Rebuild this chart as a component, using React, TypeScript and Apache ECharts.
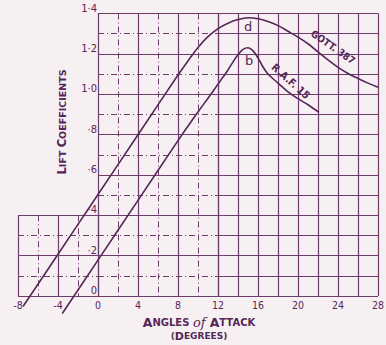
import React, { useEffect, useRef } from "react";
import * as echarts from "echarts";

// Curve a: Gott. 387
const gottX = [-7.5, -4, 0, 4, 8, 9, 10, 11, 12, 13, 14, 15, 16, 17, 18, 19, 20, 21, 22, 23, 24, 25, 26, 27, 28];
const gottY = [-0.052, 0.207, 0.503, 0.799, 1.095, 1.165, 1.232, 1.285, 1.325, 1.352, 1.37, 1.379, 1.374, 1.36, 1.34, 1.312, 1.283, 1.25, 1.21, 1.17, 1.133, 1.103, 1.078, 1.055, 1.035];
// Curve b: R.A.F. 15
const rafX = [-3.57, 0, 4, 8, 10, 11, 12, 12.5, 13, 13.5, 14, 14.5, 15, 15.5, 16, 16.5, 17, 18, 19, 20, 21, 22.1];
const rafY = [-0.087, 0.178, 0.474, 0.77, 0.912, 0.98, 1.05, 1.085, 1.12, 1.16, 1.195, 1.222, 1.23, 1.215, 1.18, 1.135, 1.1, 1.055, 1.012, 0.978, 0.948, 0.91];

const xTicks = [-8, -4, 0, 4, 8, 12, 16, 20, 24, 28];
const yTickLabels = ["0", "·2", "·4", "·6", "·8", "1·0", "1·2", "1·4"];

const BG = "#f7f0f3";
const GRID = "#6e3d6c";
const INK = "#552658";
const FONT = "'DejaVu Sans Condensed', 'Liberation Sans Narrow', 'DejaVu Sans', sans-serif";
const WIDE = "'DejaVu Sans', sans-serif";
const DASH = [6, 3, 1, 3];

export default function App() {
  const ref = useRef<HTMLDivElement>(null);
  useEffect(() => {
    if (!ref.current) return;
    const chart = echarts.init(ref.current, null, { renderer: "svg" });
    const solid = { show: true, lineStyle: { color: GRID, width: 1.2, type: "solid" } };
    const minorDash = { show: true, lineStyle: { color: GRID, width: 1, type: DASH } };
    const noAxis = { axisLine: { show: false }, axisTick: { show: false } };
    const option: any = {
      animation: false,
      backgroundColor: BG,
      grid: [
        { left: 18, top: 13.5, width: 360, height: 282.5, outerBoundsMode: "none" },
        { left: 98, top: 13.5, width: 120, height: 282.5, outerBoundsMode: "none" },
        { left: 218, top: 13.5, width: 160, height: 282.5, outerBoundsMode: "none" },
        { left: 18, top: 215.3, width: 80, height: 80.7, outerBoundsMode: "none" },
      ],
      xAxis: [
        {
          gridIndex: 0, type: "value", min: -8, max: 28, interval: 4, ...noAxis,
          splitLine: { show: false },
          axisLabel: {
            color: INK, fontSize: 10.5, margin: 3, fontFamily: FONT,
            formatter: (v: number) => (xTicks.includes(v) ? String(v) : ""),
          },
          z: 5,
        },
        {
          gridIndex: 1, type: "value", min: 0, max: 12, interval: 4, ...noAxis,
          axisLabel: { show: false }, splitLine: solid,
          minorTick: { show: false, splitNumber: 2 }, minorSplitLine: minorDash,
        },
        {
          gridIndex: 2, type: "value", min: 12, max: 28, interval: 2, ...noAxis,
          axisLabel: { show: false }, splitLine: solid,
        },
        {
          gridIndex: 3, type: "value", min: -8, max: 0, interval: 4, ...noAxis,
          axisLabel: { show: false }, splitLine: solid,
          minorTick: { show: false, splitNumber: 2 }, minorSplitLine: minorDash,
        },
      ],
      yAxis: [
        { gridIndex: 0, type: "value", min: 0, max: 1.4, show: false },
        {
          gridIndex: 1, type: "value", min: 0, max: 1.4, interval: 0.2, ...noAxis,
          splitLine: solid,
          minorTick: { show: false, splitNumber: 2 }, minorSplitLine: minorDash,
          axisLabel: {
            color: INK, fontSize: 11, margin: 1, fontFamily: FONT, verticalAlign: "bottom",
            formatter: (v: number) => yTickLabels[Math.round(v * 5)] ?? "",
          },
          z: 5,
        },
        {
          gridIndex: 2, type: "value", min: 0, max: 1.4, interval: 0.1, ...noAxis,
          axisLabel: { show: false }, splitLine: solid,
        },
        {
          gridIndex: 3, type: "value", min: 0, max: 0.4, interval: 0.2, ...noAxis,
          axisLabel: { show: false }, splitLine: solid,
          minorTick: { show: false, splitNumber: 2 }, minorSplitLine: minorDash,
        },
      ],
      series: [
        {
          name: "GOTT. 387", type: "line", xAxisIndex: 0, yAxisIndex: 0, clip: false,
          smooth: 0.35, showSymbol: false, silent: true,
          lineStyle: { color: INK, width: 1.6 },
          data: gottX.map((x, i) => [x, gottY[i]]), z: 10,
        },
        {
          name: "R.A.F. 15", type: "line", xAxisIndex: 0, yAxisIndex: 0, clip: false,
          smooth: 0.35, showSymbol: false, silent: true,
          lineStyle: { color: INK, width: 1.6 },
          data: rafX.map((x, i) => [x, rafY[i]]), z: 10,
        },
      ],
      graphic: [
        { type: "text", x: 248, y: 26, style: { text: "d", fill: INK, font: `13px ${WIDE}`, align: "center", verticalAlign: "middle" }, z: 20 },
        { type: "text", x: 249, y: 60, style: { text: "b", fill: INK, font: `13px ${WIDE}`, align: "center", verticalAlign: "middle" }, z: 20 },
        { type: "text", x: 333, y: 47, rotation: (-35 * Math.PI) / 180, style: { text: "GOTT. 387", fill: INK, font: `bold 10px ${FONT}`, align: "center", verticalAlign: "middle" }, z: 20 },
        { type: "text", x: 291, y: 81, rotation: (-42 * Math.PI) / 180, style: { text: "R.A.F. 15", fill: INK, font: `bold 10.5px ${FONT}`, align: "center", verticalAlign: "middle" }, z: 20 },
        {
          type: "text", x: 62, y: 122, rotation: Math.PI / 2, z: 20,
          style: {
            text: "{b|L}{s|IFT }{b|C}{s|OEFFICIENTS}", align: "center", verticalAlign: "middle",
            rich: {
              b: { fill: INK, fontSize: 11.5, fontFamily: WIDE, fontWeight: "bold" },
              s: { fill: INK, fontSize: 9.5, fontFamily: WIDE, fontWeight: "bold" },
            },
          },
        },
        {
          type: "text", x: 199, y: 322, z: 20,
          style: {
            text: "{b|A}{s|NGLES }{i|of }{b|A}{s|TTACK}", align: "center", verticalAlign: "middle",
            rich: {
              b: { fill: INK, fontSize: 12.5, fontFamily: WIDE, fontWeight: "bold" },
              s: { fill: INK, fontSize: 10, fontFamily: WIDE, fontWeight: "bold" },
              i: { fill: INK, fontSize: 13, fontFamily: "'DejaVu Serif', serif", fontStyle: "italic" },
            },
          },
        },
        {
          type: "text", x: 199, y: 336, z: 20,
          style: {
            text: "{s|(}{b|D}{s|EGREES)}", align: "center", verticalAlign: "middle",
            rich: {
              b: { fill: INK, fontSize: 11, fontFamily: WIDE, fontWeight: "bold" },
              s: { fill: INK, fontSize: 9, fontFamily: WIDE, fontWeight: "bold" },
            },
          },
        },
      ],
    };
    chart.setOption(option);
    return () => chart.dispose();
  }, []);
  return (
    <div
      ref={ref}
      style={{ position: "fixed", left: 0, top: 0, width: 386, height: 345, background: BG }}
    />
  );
}
